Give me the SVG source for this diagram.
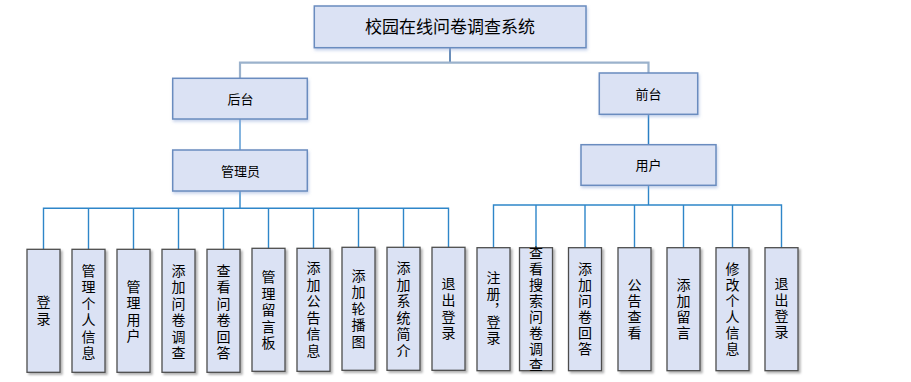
<svg xmlns="http://www.w3.org/2000/svg" width="911" height="382" viewBox="0 0 911 382">
<defs>
<filter id="sh" x="-30%" y="-10%" width="160%" height="130%">
<feDropShadow dx="2" dy="2" stdDeviation="1.2" flood-color="#000" flood-opacity="0.3"/>
</filter>
<filter id="sh2" x="-10%" y="-20%" width="120%" height="150%">
<feDropShadow dx="1" dy="2" stdDeviation="1.5" flood-color="#8fa8d8" flood-opacity="0.5"/>
</filter>
</defs>
<style>
.top{fill:#dbe2f4;stroke:#6a8cbf;stroke-width:1.5;filter:url(#sh2)}
.leaf{fill:#dbe2f4;stroke:#4d4d4d;stroke-width:1.3;filter:url(#sh)}
text{font-family:"Noto Sans CJK SC","Noto Sans",sans-serif;fill:#000}
.t1{font-size:17px;text-anchor:middle}
.t2{font-size:13px;text-anchor:middle}
.v{font-size:14px;text-anchor:middle;writing-mode:vertical-rl;letter-spacing:2.5px}
.w{font-size:14px;text-anchor:middle;writing-mode:vertical-rl;letter-spacing:2px}
.c{fill:none;stroke:#2e86c9;stroke-width:1.4}
</style>
<g id="connectors">
<path d="M450,48 V62.7" fill="none" stroke="#4472a8" stroke-width="1.6"/>
<path d="M240,78.3 V62.7 H648.5 V73" fill="none" stroke="#9bb2cc" stroke-width="2.2"/>
<path d="M240,119 V150" fill="none" stroke="#5b9bd5" stroke-width="1.5"/>
<path d="M648.5,114.3 V144.7" fill="none" stroke="#2a7fc4" stroke-width="1.5"/>
<path class="c" d="M240,191 V208.3 M43.5,249.3 V208.3 H448.5 V247.3 M88.5,208.3 V249.3 M133.5,208.3 V249.3 M178.5,208.3 V249.3 M223.5,208.3 V249.3 M268.5,208.3 V248.3 M313.5,208.3 V248.3 M358.5,208.3 V247.3 M403.5,208.3 V247.3"/>
<path class="c" d="M648.5,185.3 V205 M493.5,247.7 V205 H781.5 V247.7 M536,205 V252 M585,205 V247.7 M634.5,205 V247.7 M683.5,205 V247.7 M732.5,205 V247.7"/>
</g>
<g id="n-root"><rect class="top" x="314.3" y="6" width="271.7" height="41.7"/><text class="t1" x="450" y="33">校园在线问卷调查系统</text></g>
<g id="n-houtai"><rect class="top" x="172.7" y="78.3" width="134.6" height="40.7"/><text class="t2" x="240.5" y="104">后台</text></g>
<g id="n-admin"><rect class="top" x="172.7" y="150" width="134.6" height="41"/><text class="t2" x="240.5" y="175.5">管理员</text></g>
<g id="n-qiantai"><rect class="top" x="599.3" y="73" width="98.4" height="41.3"/><text class="t2" x="648.5" y="99">前台</text></g>
<g id="n-user"><rect class="top" x="581" y="144.7" width="135" height="40.6"/><text class="t2" x="648.5" y="170">用户</text></g>

<g id="a1"><rect class="leaf" x="27" y="249.3" width="33" height="123"/><text class="v" x="43.5" y="311.3">登录</text></g>
<g id="a2"><rect class="leaf" x="72" y="249.3" width="33" height="123"/><text class="v" x="88.5" y="313">管理个人信息</text></g>
<g id="a3"><rect class="leaf" x="117" y="249.3" width="33" height="123"/><text class="v" x="133.5" y="312.3">管理用户</text></g>
<g id="a4"><rect class="leaf" x="162" y="249.3" width="33" height="123"/><text class="v" x="178.5" y="313">添加问卷调查</text></g>
<g id="a5"><rect class="leaf" x="207" y="249.3" width="33" height="123"/><text class="v" x="223.5" y="313">查看问卷回答</text></g>
<g id="a6"><rect class="leaf" x="252" y="248.3" width="33" height="123"/><text class="v" x="268.5" y="311.3">管理留言板</text></g>
<g id="a7"><rect class="leaf" x="297" y="248.3" width="33" height="123"/><text class="v" x="313.5" y="310.5">添加公告信息</text></g>
<g id="a8"><rect class="leaf" x="342" y="247.3" width="33" height="123"/><text class="v" x="358.5" y="309.5">添加轮播图</text></g>
<g id="a9"><rect class="leaf" x="387" y="247.3" width="33" height="123"/><text class="v" x="403.5" y="310.3">添加系统简介</text></g>
<g id="a10"><rect class="leaf" x="432" y="247.3" width="33" height="123"/><text class="v" x="448.5" y="309.5">退出登录</text></g>

<g id="u1"><rect class="leaf" x="477" y="247.7" width="33" height="123"/><text class="w" x="493.5" y="309">注册<tspan letter-spacing="-2px">，</tspan>登录</text></g>
<g id="u2"><rect class="leaf" x="519.5" y="247.7" width="33" height="123"/><text class="w" x="536" y="310">查看搜索问卷调查</text></g>
<g id="u3"><rect class="leaf" x="568.5" y="247.7" width="33" height="123"/><text class="w" x="585" y="309.3">添加问卷回答</text></g>
<g id="u4"><rect class="leaf" x="618" y="247.7" width="33" height="123"/><text class="w" x="634.5" y="309.3">公告查看</text></g>
<g id="u5"><rect class="leaf" x="667" y="247.7" width="33" height="123"/><text class="w" x="683.5" y="310">添加留言</text></g>
<g id="u6"><rect class="leaf" x="716" y="247.7" width="33" height="123"/><text class="w" x="732.5" y="310">修改个人信息</text></g>
<g id="u7"><rect class="leaf" x="765" y="247.7" width="33" height="123"/><text class="w" x="781.5" y="309">退出登录</text></g>
</svg>
